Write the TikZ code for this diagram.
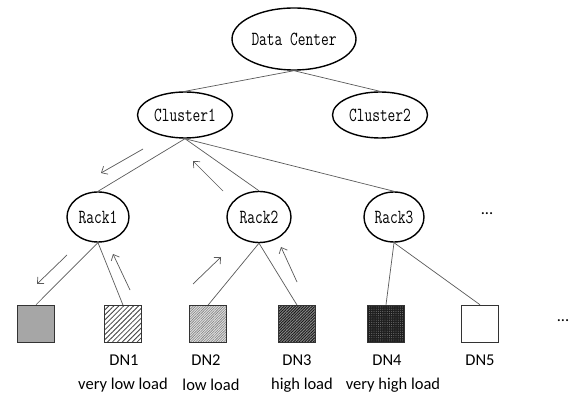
\documentclass[tikz,border=0pt]{standalone}
\usepackage{fontspec}
\setmainfont{Carlito}
\newfontfamily\simfont{Latin Modern Mono}[FakeStretch=0.75]
\usetikzlibrary{patterns.meta,arrows.meta,shapes.geometric}
\tikzset{
  treenode/.style={draw=black,line width=1.4pt,ellipse,inner sep=0pt,
    font=\simfont\fontsize{20}{20}\selectfont},
  sqr/.style={draw=black!80,line width=1.5pt,rectangle,minimum size=37pt,inner sep=0pt},
  link/.style={draw=black!65,line width=0.7pt},
  flow/.style={draw=black!65,line width=0.7pt,-{Straight Barb[length=5pt,width=9pt]}},
  lbl/.style={font=\fontsize{16.5}{16.5}\selectfont,inner sep=0pt}
}
\begin{document}
\begin{tikzpicture}[x=1pt,y=-1pt]
\useasboundingbox (0,0) rectangle (573,395);
% tree nodes
\node[treenode,minimum width=124pt,minimum height=62pt] (dc) at (294,39) {Data Center};
\node[treenode,minimum width=95pt,minimum height=46pt] (c1) at (185,115) {Cluster1};
\node[treenode,minimum width=95pt,minimum height=46pt] (c2) at (380,115) {Cluster2};
\node[treenode,minimum width=62pt,minimum height=50pt] (r1) at (98,217) {Rack1};
\node[treenode,minimum width=64pt,minimum height=51pt] (r2) at (259,217) {Rack2};
\node[treenode,minimum width=60pt,minimum height=50pt] (r3) at (394,217) {Rack3};
\node[lbl] (rdots) at (487,214) {...};
% data nodes
\node[sqr,fill={rgb,255:red,166;green,166;blue,166}] (s0) at (36,324) {};
\node[sqr,preaction={fill=white},pattern={Lines[angle=45,distance=3.5pt,line width=0.8pt]},pattern color=black!75] (s1) at (123,324) {};
\node[sqr,preaction={fill=black!12},pattern={Lines[angle=45,distance=1.8pt,line width=0.6pt]},pattern color=black!50] (s2) at (208,324) {};
\node[sqr,preaction={fill=black!45},pattern={Lines[angle=45,distance=2pt,line width=0.9pt]},pattern color=black!90] (s3) at (297,324) {};
\node[sqr,preaction={fill=black!88},pattern={Dots[radius=0.45pt,distance=2.2pt]},pattern color=black!45] (s4) at (386,324) {};
\node[sqr,fill=white] (s5) at (480,324) {};
\node[lbl] (sdots) at (563,321) {...};
% labels
\node[lbl] (d1) at (124,360) {DN1};
\node[lbl] (d2) at (206,360) {DN2};
\node[lbl] (d3) at (297,360) {DN3};
\node[lbl] (d4) at (387,360) {DN4};
\node[lbl] (d5) at (480,360) {DN5};
\node[lbl] (l1) at (123,385) {very low load};
\node[lbl] (l2) at (211,385) {low load};
\node[lbl] (l3) at (302,385) {high load};
\node[lbl] (l4) at (393,385) {very high load};
% links
\draw[link] (dc.south) -- (c1.north);
\draw[link] (dc.south) -- (c2.north);
\draw[link] (c1.south) -- (r1.north);
\draw[link] (c1.south) -- (r2.north);
\draw[link] (c1.south) -- (r3.north);
\draw[link] (r1.south) -- (s0.north);
\draw[link] (r1.south) -- (s1.north);
\draw[link] (r2.south) -- (s2.north);
\draw[link] (r2.south) -- (s3.north);
\draw[link] (r3.south) -- (s4.north);
\draw[link] (r3.south) -- (s5.north);
% flow arrows
\coordinate (a1s) at (143,149); \coordinate (a1e) at (101,173);
\coordinate (a2s) at (223,191); \coordinate (a2e) at (193,161);
\coordinate (a3s) at (67,255);  \coordinate (a3e) at (37,284);
\coordinate (a4s) at (130,290); \coordinate (a4e) at (113,254);
\coordinate (a5s) at (193,284); \coordinate (a5e) at (221,257);
\coordinate (a6s) at (297,282); \coordinate (a6e) at (281,247);
\draw[flow] (a1s) -- (a1e);
\draw[flow] (a2s) -- (a2e);
\draw[flow] (a3s) -- (a3e);
\draw[flow] (a4s) -- (a4e);
\draw[flow] (a5s) -- (a5e);
\draw[flow] (a6s) -- (a6e);
\end{tikzpicture}
\end{document}
